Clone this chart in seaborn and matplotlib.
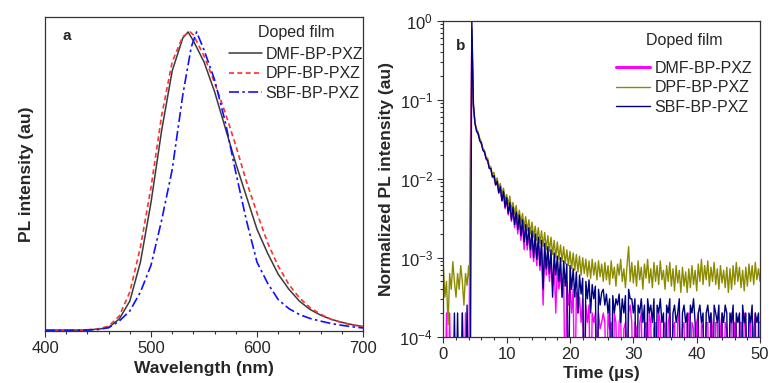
import numpy as np
import pandas as pd
import matplotlib
matplotlib.use("Agg")
import matplotlib.pyplot as plt
import seaborn as sns
from matplotlib.ticker import MultipleLocator, LogLocator, NullFormatter

sns.set_style("ticks")
plt.rcParams['font.family'] = ['Liberation Sans', 'DejaVu Sans']
plt.rcParams['mathtext.fontset'] = 'custom'
plt.rcParams['mathtext.rm'] = 'Liberation Sans'

# ---------------- Panel a: PL spectra ----------------
series_names = ["DMF-BP-PXZ", "DPF-BP-PXZ", "SBF-BP-PXZ"]

wl_dmf = [400, 410, 420, 430, 440, 450, 460, 470, 480, 490, 500, 510, 520, 530, 535, 540,
          550, 560, 570, 580, 590, 600, 610, 620, 630, 640, 650, 660, 670, 680, 690, 700]
pl_dmf = [0.003, 0.003, 0.003, 0.003, 0.004, 0.006, 0.012, 0.04, 0.10, 0.23, 0.43, 0.67, 0.87, 0.98, 1.0, 0.97,
          0.90, 0.80, 0.68, 0.56, 0.45, 0.34, 0.26, 0.19, 0.14, 0.10, 0.072, 0.053, 0.039, 0.029, 0.021, 0.015]

wl_dpf = [400, 410, 420, 430, 440, 450, 460, 470, 480, 490, 500, 510, 520, 530, 537, 540,
          550, 560, 570, 580, 590, 600, 610, 620, 630, 640, 650, 660, 670, 680, 690, 700]
pl_dpf = [0.002, 0.002, 0.002, 0.003, 0.004, 0.007, 0.016, 0.05, 0.13, 0.28, 0.48, 0.72, 0.90, 0.985, 1.0, 0.99,
          0.92, 0.83, 0.73, 0.62, 0.50, 0.395, 0.295, 0.217, 0.156, 0.111, 0.078, 0.056, 0.039, 0.028, 0.02, 0.014]

wl_sbf = [400, 410, 420, 430, 440, 450, 460, 470, 480, 490, 500, 510, 520, 530, 538, 543,
          550, 560, 570, 580, 590, 600, 610, 620, 630, 640, 650, 660, 670, 680, 690, 700]
pl_sbf = [0.002, 0.002, 0.002, 0.002, 0.003, 0.005, 0.011, 0.033, 0.067, 0.13, 0.22, 0.37, 0.54, 0.79, 0.95, 1.0,
          0.94, 0.84, 0.70, 0.53, 0.37, 0.23, 0.16, 0.105, 0.075, 0.055, 0.042, 0.033, 0.025, 0.019, 0.014, 0.01]

# ---------------- Panel b: transient decay (log10 of normalized intensity, 0.25 us steps) ----------------
time_step_us = 0.25
dmf_log10 = [
    -5, -5, -3.7, -5, -3.7, -5, -5, -5, -5, -5,
    -5, -5, -3.7, -5, -3.7, -5, -5, -1.75, -0.2, -1.08,
    -1.3, -1.39, -1.44, -1.51, -1.56, -1.63, -1.67, -1.74, -1.78, -1.86,
    -1.88, -1.97, -1.98, -2.08, -2.06, -2.18, -2.13, -2.28, -2.2, -2.38,
    -2.26, -2.46, -2.33, -2.54, -2.4, -2.62, -2.46, -2.7, -2.5, -2.78,
    -2.56, -2.9, -2.62, -2.9, -2.68, -3.0, -2.72, -3.05, -2.78, -3.1,
    -2.82, -3.16, -2.88, -3.6, -2.92, -3.22, -2.98, -3.3, -3.02, -3.36,
    -3.08, -3.7, -3.12, -3.4, -3.18, -3.5, -3.24, -5, -3.3, -3.6,
    -3.34, -3.7, -3.4, -5, -3.44, -3.7, -3.5, -3.82, -3.52, -5,
    -3.6, -3.82, -3.6, -5, -3.7, -3.82, -3.7, -5, -3.7, -3.9,
    -3.82, -3.7, -3.82, -5, -3.7, -3.9, -3.82, -5, -3.7, -3.82,
    -5, -3.82, -3.7, -5, -3.9, -3.82, -5, -3.7, -3.6, -3.82,
    -5, -3.82, -3.9, -5, -3.82, -3.7, -5, -3.9, -3.82, -5,
    -3.7, -3.82, -5, -3.9, -3.82, -5, -3.7, -3.82, -5, -3.9,
    -3.82, -5, -3.82, -3.7, -5, -3.9, -3.82, -5, -3.82, -3.7,
    -5, -3.9, -3.82, -5, -3.82, -3.7, -5, -3.82, -3.9, -5,
    -3.82, -3.7, -5, -3.82, -3.9, -5, -3.82, -3.82, -5, -3.7,
    -3.9, -5, -3.82, -3.82, -5, -3.9, -3.7, -5, -3.82, -3.9,
    -5, -3.82, -3.7, -5, -3.82, -3.9, -5, -3.82, -3.82, -5,
    -3.7, -3.9, -5, -3.82, -3.82, -5, -3.9, -3.7, -5, -3.82,
    -3.82,
]
dpf_log10 = [
    -3.1, -3.5, -3.3, -3.85, -3.2, -3.4, -3.05, -3.3, -3.5, -3.2,
    -3.4, -3.1, -3.3, -3.6, -3.2, -3.35, -3.1, -3.4, -0.1, -1.1,
    -1.3, -1.37, -1.41, -1.49, -1.53, -1.62, -1.64, -1.73, -1.74, -1.84,
    -1.85, -1.95, -1.92, -2.04, -1.99, -2.12, -2.06, -2.19, -2.12, -2.27,
    -2.2, -2.33, -2.22, -2.4, -2.3, -2.45, -2.34, -2.52, -2.4, -2.56,
    -2.44, -2.62, -2.48, -2.66, -2.52, -2.7, -2.55, -2.74, -2.6, -2.78,
    -2.62, -2.82, -2.66, -2.86, -2.68, -2.9, -2.72, -2.92, -2.74, -2.96,
    -2.78, -3.0, -2.8, -3.02, -2.84, -3.05, -2.86, -3.08, -2.9, -3.1,
    -2.92, -3.14, -2.94, -3.16, -2.96, -3.18, -2.98, -3.22, -3.0, -3.2,
    -3.02, -3.24, -3.04, -3.26, -3.02, -3.22, -3.06, -3.28, -3.04, -3.24,
    -3.08, -3.3, -3.06, -3.28, -3.1, -3.34, -3.04, -3.26, -3.12, -3.36,
    -3.08, -3.22, -3.02, -3.3, -3.14, -3.38, -3.1, -2.86, -3.3, -3.06,
    -3.32, -3.1, -3.36, -3.04, -3.28, -3.12, -3.4, -3.08, -3.26, -3.02,
    -3.32, -3.14, -3.38, -3.06, -3.3, -3.1, -3.34, -3.04, -3.28, -3.16,
    -3.4, -3.1, -3.3, -3.06, -3.36, -3.14, -3.42, -3.1, -3.32, -3.16,
    -3.44, -3.12, -3.36, -3.18, -3.44, -3.14, -3.38, -3.1, -3.34, -3.16,
    -3.42, -3.08, -3.3, -3.02, -3.34, -3.1, -3.28, -3.04, -3.36, -3.12,
    -3.3, -3.06, -3.34, -3.14, -3.4, -3.1, -3.32, -3.16, -3.38, -3.12,
    -3.44, -3.14, -3.4, -3.1, -3.34, -3.06, -3.3, -3.12, -3.38, -3.16,
    -3.42, -3.12, -3.36, -3.08, -3.3, -3.1, -3.34, -3.06, -3.28, -3.14,
    -3.3,
]
sbf_log10 = [
    -5, -5, -5, -5, -5, -5, -5, -3.7, -5, -3.7,
    -5, -5, -3.7, -5, -5, -3.6, -5, -5, 0.0, -1.05,
    -1.3, -1.4, -1.43, -1.52, -1.55, -1.64, -1.66, -1.75, -1.77, -1.87,
    -1.87, -1.98, -1.96, -2.08, -2.03, -2.18, -2.1, -2.28, -2.16, -2.36,
    -2.24, -2.44, -2.3, -2.52, -2.36, -2.58, -2.42, -2.64, -2.46, -2.72,
    -2.52, -2.8, -2.58, -2.84, -2.62, -2.9, -2.66, -3.0, -2.7, -3.02,
    -2.74, -3.1, -2.78, -3.4, -2.82, -3.14, -2.86, -3.2, -2.9, -3.5,
    -2.94, -3.22, -2.98, -3.3, -3.0, -3.5, -3.04, -3.36, -3.08, -5,
    -3.1, -3.4, -3.14, -3.5, -3.18, -3.7, -3.22, -3.46, -3.26, -5,
    -3.3, -3.52, -3.28, -3.7, -3.34, -3.52, -3.36, -5, -3.4, -3.6,
    -3.44, -3.4, -3.6, -3.46, -3.7, -3.52, -5, -3.48, -3.7, -3.52,
    -3.6, -3.46, -3.82, -3.52, -3.7, -3.48, -5, -3.4, -3.52, -3.52,
    -3.7, -3.52, -5, -3.6, -3.7, -3.52, -3.82, -3.6, -5, -3.52,
    -3.7, -3.6, -3.82, -3.52, -5, -3.6, -3.7, -3.52, -3.82, -3.7,
    -5, -3.6, -3.7, -3.52, -5, -3.7, -3.6, -3.82, -3.7, -3.52,
    -5, -3.7, -3.6, -3.82, -3.7, -5, -3.6, -3.7, -3.52, -3.82,
    -5, -3.7, -3.6, -3.82, -3.7, -5, -3.7, -3.6, -3.82, -3.7,
    -5, -3.6, -3.7, -3.82, -3.6, -5, -3.7, -3.82, -3.6, -3.7,
    -5, -3.7, -3.82, -3.6, -5, -3.7, -3.82, -3.7, -5, -3.6,
    -3.82, -3.7, -5, -3.7, -3.82, -3.6, -5, -3.7, -3.82, -3.7,
    -5,
]

fig = plt.figure(figsize=(7.71, 3.83), dpi=100)
ax1 = fig.add_axes([0.0584, 0.1358, 0.4124, 0.8198])
ax2 = fig.add_axes([0.5750, 0.1209, 0.4108, 0.8250])

# ---- panel a
spec_df = pd.concat([
    pd.DataFrame({"wl": wl_dmf, "pl": pl_dmf, "name": series_names[0]}),
    pd.DataFrame({"wl": wl_dpf, "pl": pl_dpf, "name": series_names[1]}),
    pd.DataFrame({"wl": wl_sbf, "pl": pl_sbf, "name": series_names[2]}),
])
styles_a = {
    series_names[0]: dict(color="#3a3a3a", ls="-", lw=1.1),
    series_names[1]: dict(color="#ff3030", ls=(0, (3, 2)), lw=1.2),
    series_names[2]: dict(color="#1010ff", ls=(0, (6, 2, 1.5, 2)), lw=1.2),
}
for name in series_names:
    d = spec_df[spec_df["name"] == name]
    st = styles_a[name]
    sns.lineplot(data=d, x="wl", y="pl", ax=ax1, color=st["color"], linestyle=st["ls"],
                 linewidth=st["lw"], label=name, estimator=None, sort=False)

ax1.set_xlim(400, 700)
ax1.set_ylim(0, 1.05)
ax1.set_yticks([])
ax1.xaxis.set_major_locator(MultipleLocator(100))
ax1.xaxis.set_minor_locator(MultipleLocator(20))
ax1.tick_params(axis="x", which="major", labelsize=12, length=4, width=0.8, color="#333333")
ax1.tick_params(axis="x", which="minor", length=2.5, width=0.8, color="#333333")
ax1.set_xlabel("Wavelength (nm)", fontsize=12.5, fontweight="bold", labelpad=3)
ax1.set_ylabel("PL intensity (au)", fontsize=12.5, fontweight="bold", labelpad=8)
ax1.text(0.055, 0.94, "a", transform=ax1.transAxes, fontsize=11, fontweight="bold",
         ha="left", va="center")
leg1 = ax1.legend(title="Doped film", loc="upper right", bbox_to_anchor=(1.025, 1.0),
                  frameon=False, fontsize=11.5, title_fontsize=11.5, labelspacing=0.27,
                  handlelength=2.1, handletextpad=0.2, borderaxespad=0.3, borderpad=0.2)
leg1._legend_box.sep = 5

# ---- panel b
decay_df = pd.concat([
    pd.DataFrame({"t": np.arange(len(v)) * time_step_us, "I": np.power(10.0, v), "name": n})
    for v, n in zip([dmf_log10, dpf_log10, sbf_log10], series_names)
])
colors_b = {series_names[0]: "#ff00ff", series_names[1]: "#8b8b00", series_names[2]: "#000080"}
for name in series_names:
    d = decay_df[decay_df["name"] == name]
    sns.lineplot(data=d, x="t", y="I", ax=ax2, color=colors_b[name], linewidth=1.0,
                 label=name, estimator=None, sort=False)

ax2.set_yscale("log")
ax2.set_xlim(0, 50)
ax2.set_ylim(1e-4, 1)
ax2.xaxis.set_major_locator(MultipleLocator(10))
ax2.xaxis.set_minor_locator(MultipleLocator(2))
ax2.yaxis.set_major_locator(LogLocator(base=10, numticks=10))
ax2.yaxis.set_minor_locator(LogLocator(base=10, subs=np.arange(2, 10), numticks=20))
ax2.yaxis.set_minor_formatter(NullFormatter())
ax2.tick_params(axis="both", which="major", labelsize=12, length=4, width=0.8, color="#333333")
ax2.tick_params(axis="both", which="minor", length=2.5, width=0.8, color="#333333")
ax2.set_xlabel("Time (\u00b5s)", fontsize=12.5, fontweight="bold", labelpad=3)
ax2.set_ylabel("Normalized PL intensity (au)", fontsize=12.5, fontweight="bold", labelpad=4)
ax2.text(0.04, 0.92, "b", transform=ax2.transAxes, fontsize=11, fontweight="bold",
         ha="left", va="center")
leg2 = ax2.legend(title="Doped film", loc="upper right", bbox_to_anchor=(1.0, 0.985),
                  frameon=False, fontsize=11.5, title_fontsize=11.5, labelspacing=0.27,
                  handlelength=2.1, handletextpad=0.3, borderaxespad=0.3, borderpad=0.2)
leg2._legend_box.sep = 9
for h, lw in zip(leg2.get_lines(), [2.2, 1.0, 1.0]):
    h.set_linewidth(lw)

for ax in (ax1, ax2):
    for s in ax.spines.values():
        s.set_visible(True)
        s.set_linewidth(0.9)
        s.set_color("#333333")

fig.savefig("out.png", dpi=100)
